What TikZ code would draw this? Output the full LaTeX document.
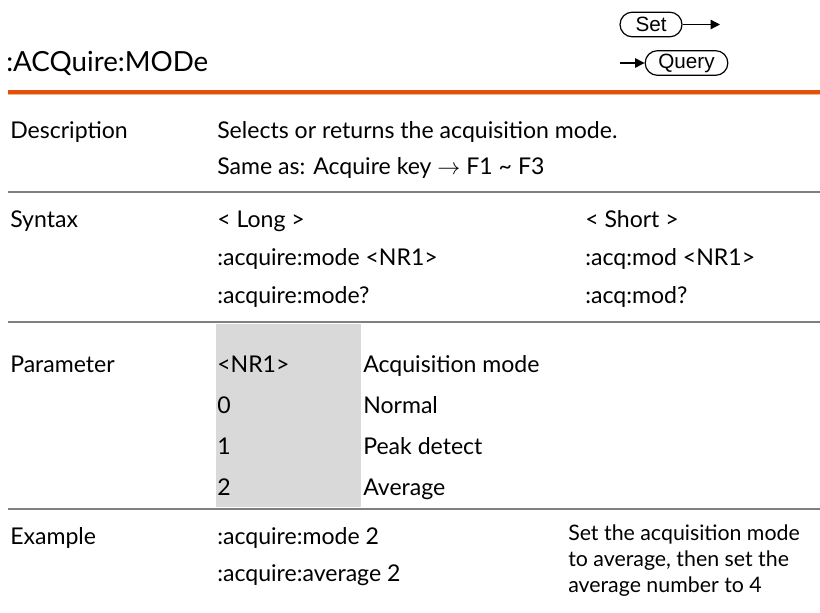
\documentclass[tikz,border=0pt]{standalone}
\usepackage{fontspec}
\setmainfont{Lato}
\newfontfamily\badgefont{Liberation Sans}
\usetikzlibrary{arrows.meta,shapes.misc}
\definecolor{rulegray}{HTML}{808080}
\definecolor{ruleorange}{HTML}{E2500A}
\definecolor{rulepeach}{HTML}{F6B592}
\definecolor{cellgray}{HTML}{D9D9D9}
\begin{document}
\begin{tikzpicture}[x=0.75pt,y=-0.75pt,
  txt/.style={anchor=base west,inner sep=0pt,font=\fontsize{17.3}{20}\selectfont},
  note/.style={txt,font=\fontsize{16}{19}\selectfont},
  badge/.style={draw,line width=0.9pt,rounded rectangle,inner sep=0pt,minimum height=18.5pt,font=\badgefont\fontsize{15.5}{15.5}\selectfont},
  sep/.style={rulegray,line width=1.5pt},
  tip/.style={-{Triangle[length=7pt,width=7pt]},line width=0.9pt}]
\useasboundingbox (0,0) rectangle (820,613);

\node[txt,font=\fontsize{20.8}{24}\selectfont] (title) at (6,72) {:ACQuire:MODe};

\node[badge,minimum width=46.5pt] (set) at (651,24.5) {Set};
\node[badge,minimum width=62pt] (query) at (686.5,63) {Query};
\coordinate (setend) at (720,24.5);
\coordinate (querystart) at (620,63);
\draw[tip] (set.east) -- (setend);
\draw[tip] (querystart) -- (query.west);

\draw[ruleorange,line width=3pt] (8,92) -- (820,92);
\draw[rulepeach,line width=1.2pt] (8,94.6) -- (820,94.6);

\fill[cellgray] (216,324) rectangle (361,507);

\node[txt] (a0) at (10,138) {Description};
\node[txt] (a1) at (217,138) {Selects or returns the acquisition mode.};
\node[txt] (a2) at (217,175) {Same as: Acquire key $\rightarrow$ F1 \textasciitilde{} F3};
\draw[sep] (8,192) -- (820,192);

\node[txt] (b0) at (10,227) {Syntax};
\node[txt] (b1) at (217,227) {< Long >};
\node[txt] (b2) at (585,227) {< Short >};
\node[txt] (b3) at (217,265) {:acquire:mode <NR1>};
\node[txt] (b4) at (585,265) {:acq:mod <NR1>};
\node[txt] (b5) at (217,303) {:acquire:mode?};
\node[txt] (b6) at (585,303) {:acq:mod?};
\draw[sep] (8,322) -- (820,322);

\node[txt] (c0) at (10,372) {Parameter};
\node[txt] (c1) at (217,372) {<NR1>};
\node[txt] (c2) at (363,372) {Acquisition mode};
\node[txt] (c3) at (217,413) {0};
\node[txt] (c4) at (363,413) {Normal};
\node[txt] (c5) at (217,454) {1};
\node[txt] (c6) at (363,454) {Peak detect};
\node[txt] (c7) at (217,495) {2};
\node[txt] (c8) at (363,495) {Average};
\draw[sep] (8,509) -- (820,509);

\node[txt] (d0) at (10,544) {Example};
\node[txt] (d1) at (217,544) {:acquire:mode 2};
\node[txt] (d2) at (217,581) {:acquire:average 2};
\node[note] (d3) at (568,540) {Set the acquisition mode};
\node[note] (d4) at (568,566) {to average, then set the};
\node[note] (d5) at (568,592) {average number to 4};
\end{tikzpicture}
\end{document}
